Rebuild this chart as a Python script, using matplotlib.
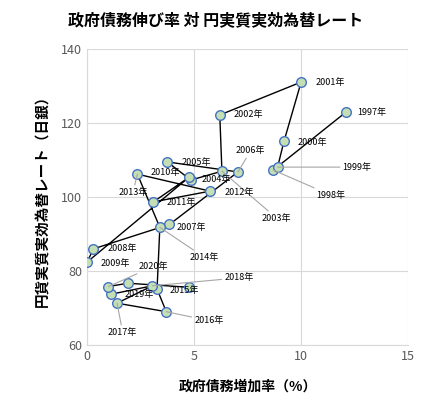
import matplotlib.pyplot as plt

plt.rcParams['font.family'] = ['Noto Sans CJK JP', 'DejaVu Sans']

years = list(range(1997, 2023))
debt_growth = [12.1, 8.7, 8.9, 9.2, 10.0, 6.2, 6.3, 4.85, 3.75, 7.05, 3.85, 0.3, 0.0,
               4.75, 3.1, 5.75, 2.35, 3.4, 3.27, 3.7, 1.4, 3.05, 1.1, 1.0, 1.9, 4.77]
real_yen = [123.0, 107.3, 108.1, 115.1, 131.1, 122.2, 107.0, 104.6, 109.5, 106.8, 92.6, 86.0, 82.4,
            105.3, 98.7, 101.6, 106.2, 91.8, 75.1, 69.0, 71.3, 76.0, 73.7, 75.8, 76.7, 75.6]

# label offset in pixels (dx, dy) and whether a leader line is drawn
label_offsets = {
    1997: (11, 0, False), 1998: (43, -25, True), 1999: (65, 0, True), 2000: (14, -1, False),
    2001: (14, 0, False), 2002: (14, 0, False), 2003: (40, -47, True), 2004: (11, 1, False),
    2005: (14, -1, False), 2006: (-2, 21, True), 2007: (7, -3, False), 2008: (14, 0, False),
    2009: (14, -1, False), 2010: (-38, 5, False), 2011: (13, -1, False), 2012: (14, -1, False),
    2013: (-19, -18, True), 2014: (30, -30, True), 2015: (13, -1, False), 2016: (28, -9, True),
    2017: (-9, -29, True), 2018: (72, 8, True), 2019: (14, 0, False), 2020: (30, 20, True),
}

fig = plt.figure(figsize=(4.31, 4.03), dpi=100)
ax = fig.add_axes([0.202, 0.144, 0.745, 0.734])
ax.plot(debt_growth, real_yen, color='black', linewidth=1.0, zorder=2)
ax.scatter(debt_growth, real_yen, s=48, facecolor='#c5dfb4', edgecolor='#4472c4', linewidth=1.0, zorder=3)

for yr, x, y in zip(years, debt_growth, real_yen):
    if yr not in label_offsets:
        continue
    dx, dy, leader = label_offsets[yr]
    props = dict(arrowstyle='-', color='#a6a6a6', lw=0.8, shrinkA=0, shrinkB=0) if leader else None
    ax.annotate(f'{yr}年', (x, y), xytext=(dx, dy), textcoords='offset pixels',
                fontsize=6.5, ha='left', va='center', arrowprops=props, zorder=4)

ax.set_xlim(0, 15)
ax.set_ylim(60, 140)
ax.set_xticks([0, 5, 10, 15])
ax.set_yticks([60, 80, 100, 120, 140])
ax.grid(True, color='#d9d9d9', linewidth=0.8)
ax.set_axisbelow(True)
for side in ['top', 'right']:
    ax.spines[side].set_visible(False)
for side in ['left', 'bottom']:
    ax.spines[side].set_color('#d9d9d9')
ax.tick_params(length=0, labelsize=9, colors='#595959')
ax.set_xlabel('政府債務増加率（%）', fontsize=10, fontweight='bold', labelpad=12)
ax.set_ylabel('円貨実質実効為替レート（日銀）', fontsize=10.5, fontweight='bold', labelpad=8)
fig.suptitle('政府債務伸び率 対 円実質実効為替レート', fontsize=11.5, fontweight='bold', y=0.97)

fig.savefig('out.png', dpi=100)
